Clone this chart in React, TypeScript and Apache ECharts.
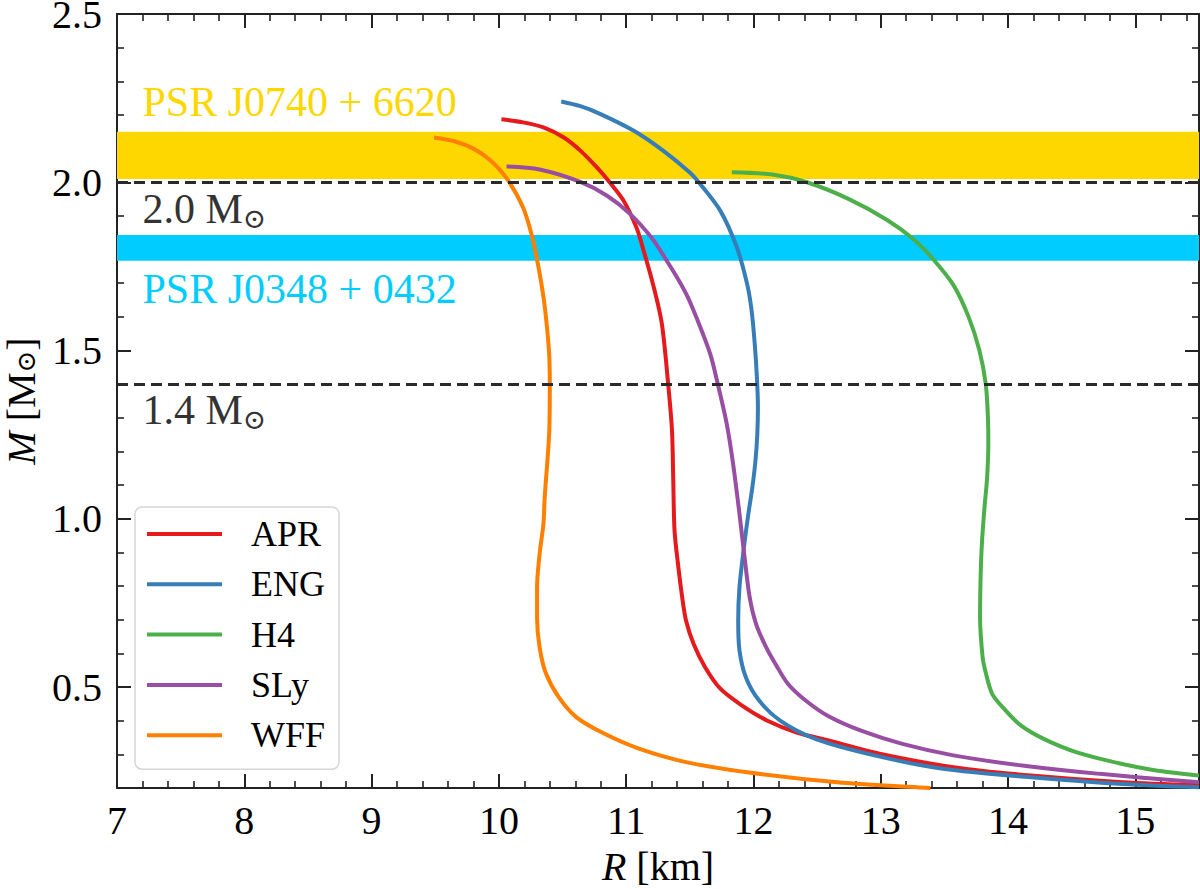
import React, { useEffect, useRef } from "react";
import * as echarts from "echarts";

// ---------- data ----------
const seriesNames = ["APR", "ENG", "H4", "SLy", "WFF"];
const seriesColors = ["#E41A1C", "#377EB8", "#4DAF4A", "#984EA3", "#FF7F00"];

const aprR = [10.02, 10.19, 10.35, 10.51, 10.64, 10.77, 10.87, 10.98, 11.08, 11.13, 11.21, 11.28, 11.33, 11.36, 11.37, 11.38, 11.41, 11.44, 11.47, 11.53, 11.62, 11.74, 11.91, 12.11, 12.34, 12.59, 12.99, 13.57, 14.18, 14.9, 15.5];
const aprM = [2.187, 2.178, 2.163, 2.133, 2.094, 2.044, 2.0, 1.945, 1.866, 1.806, 1.698, 1.58, 1.4, 1.262, 1.113, 0.965, 0.856, 0.767, 0.698, 0.628, 0.559, 0.495, 0.445, 0.4, 0.365, 0.341, 0.302, 0.262, 0.237, 0.217, 0.208];

const engR = [10.49, 10.64, 10.79, 11.06, 11.29, 11.5, 11.57, 11.74, 11.87, 11.95, 11.985, 12.01, 12.027, 12.035, 12.03, 12.015, 11.99, 11.96, 11.925, 11.89, 11.88, 11.89, 11.94, 12.04, 12.21, 12.485, 12.95, 13.49, 14.18, 14.9, 15.5];
const engM = [2.24, 2.226, 2.204, 2.153, 2.094, 2.029, 2.0, 1.915, 1.806, 1.698, 1.62, 1.52, 1.42, 1.33, 1.25, 1.17, 1.09, 1.015, 0.915, 0.797, 0.698, 0.609, 0.529, 0.462, 0.4, 0.346, 0.297, 0.257, 0.232, 0.212, 0.202];

const h4R = [11.83, 12.15, 12.42, 12.75, 13.05, 13.26, 13.41, 13.57, 13.69, 13.775, 13.825, 13.842, 13.845, 13.835, 13.815, 13.795, 13.785, 13.78, 13.8, 13.82, 13.875, 13.97, 14.1, 14.28, 14.54, 14.89, 15.15, 15.5];
const h4M = [2.03, 2.023, 2.0, 1.95, 1.888, 1.83, 1.772, 1.695, 1.6, 1.5, 1.4, 1.3, 1.22, 1.12, 1.034, 0.93, 0.836, 0.707, 0.589, 0.55, 0.48, 0.435, 0.386, 0.346, 0.306, 0.272, 0.253, 0.237];

const slyR = [10.06, 10.32, 10.64, 10.85, 11.03, 11.2, 11.3, 11.4, 11.48, 11.55, 11.66, 11.72, 11.79, 11.84, 11.89, 11.93, 11.97, 12.02, 12.1, 12.18, 12.27, 12.41, 12.59, 12.84, 13.17, 13.57, 14.11, 14.72, 15.5];
const slyM = [2.047, 2.038, 2.001, 1.96, 1.906, 1.835, 1.778, 1.717, 1.662, 1.6, 1.49, 1.4, 1.282, 1.163, 1.015, 0.886, 0.767, 0.688, 0.618, 0.564, 0.51, 0.46, 0.413, 0.371, 0.331, 0.297, 0.267, 0.242, 0.217];

const wffR = [9.49, 9.65, 9.8, 9.93, 10.06, 10.19, 10.26, 10.31, 10.35, 10.375, 10.395, 10.4, 10.396, 10.36, 10.35, 10.32, 10.3, 10.3, 10.32, 10.37, 10.47, 10.61, 10.83, 11.1, 11.47, 11.98, 12.66, 13.39];
const wffM = [2.133, 2.122, 2.1, 2.066, 2.012, 1.925, 1.84, 1.75, 1.66, 1.58, 1.49, 1.4, 1.262, 1.064, 0.985, 0.896, 0.797, 0.707, 0.618, 0.54, 0.47, 0.41, 0.361, 0.317, 0.277, 0.245, 0.217, 0.2];

const seriesR = [aprR, engR, h4R, slyR, wffR];
const seriesM = [aprM, engM, h4M, slyM, wffM];

// observational bands and reference lines
const bandLow = [2.01, 1.767];
const bandHigh = [2.15, 1.843];
const bandColors = ["#FFD700", "#00CCFF"];
const refLines = [2.0, 1.4];

// annotations
const annoR = [7.2, 7.2, 7.2, 7.2];
const annoM = [2.239, 1.922, 1.682, 1.324];
const annoMain = ["PSR J0740 + 6620", "2.0 M", "PSR J0348 + 0432", "1.4 M"];
const annoSun = [false, true, false, true];
const annoColors = ["#FFD700", "#333333", "#00CCFF", "#333333"];

// axes
const xMin = 7;
const xMax = 15.5;
const yMin = 0.2;
const yMax = 2.5;
const xMajorTicks = [7, 8, 9, 10, 11, 12, 13, 14, 15];
const xMinorTicks = [7.2, 7.4, 7.6, 7.8, 8.2, 8.4, 8.6, 8.8, 9.2, 9.4, 9.6, 9.8, 10.2, 10.4, 10.6, 10.8, 11.2, 11.4, 11.6, 11.8, 12.2, 12.4, 12.6, 12.8, 13.2, 13.4, 13.6, 13.8, 14.2, 14.4, 14.6, 14.8, 15.2, 15.4];
const yMajorTicks = [0.5, 1.0, 1.5, 2.0, 2.5];
const yMinorTicks = [0.3, 0.4, 0.6, 0.7, 0.8, 0.9, 1.1, 1.2, 1.3, 1.4, 1.6, 1.7, 1.8, 1.9, 2.1, 2.2, 2.3, 2.4];

const SERIF = "'Liberation Serif', 'Times New Roman', serif";
const SUNFONT = "'DejaVu Serif', 'DejaVu Sans', serif";
const AXIS_COLOR = "#222";

function makeXAxis(pos: string, ticks: number[], len: number, showLine: boolean, labels: boolean) {
  return {
    type: "value",
    position: pos,
    min: xMin,
    max: xMax,
    splitLine: { show: false },
    axisLine: { show: showLine, onZero: false, lineStyle: { color: AXIS_COLOR, width: 2 } },
    axisTick: {
      show: true,
      inside: true,
      length: len,
      customValues: ticks,
      lineStyle: { color: AXIS_COLOR, width: len > 10 ? 2 : 1.6 },
    },
    axisLabel: labels
      ? {
          show: true,
          customValues: ticks,
          margin: 12,
          fontSize: 40,
          fontFamily: SERIF,
          color: "#000",
          formatter: (v: number) => String(v),
        }
      : { show: false },
    axisPointer: { show: false },
  };
}

function makeYAxis(pos: string, ticks: number[], len: number, showLine: boolean, labels: boolean) {
  return {
    type: "value",
    position: pos,
    min: yMin,
    max: yMax,
    splitLine: { show: false },
    axisLine: { show: showLine, onZero: false, lineStyle: { color: AXIS_COLOR, width: 2 } },
    axisTick: {
      show: true,
      inside: true,
      length: len,
      customValues: ticks,
      lineStyle: { color: AXIS_COLOR, width: len > 10 ? 2 : 1.6 },
    },
    axisLabel: labels
      ? {
          show: true,
          customValues: ticks,
          margin: 15,
          fontSize: 40,
          lineHeight: 28,
          padding: [8, 0, 0, 0],
          fontFamily: SERIF,
          color: "#000",
          formatter: (v: number) => v.toFixed(1),
        }
      : { show: false },
  };
}

export default function App() {
  const ref = useRef<HTMLDivElement>(null);

  useEffect(() => {
    if (!ref.current) return;
    const chart = echarts.init(ref.current, null, { renderer: "svg" });

    const xBottom: any = makeXAxis("bottom", xMajorTicks, 14, true, true);
    xBottom.name = "{i|R} [km]";
    xBottom.nameLocation = "middle";
    xBottom.nameGap = 58;
    xBottom.nameTextStyle = {
      fontSize: 40,
      fontFamily: SERIF,
      color: "#000",
      rich: { i: { fontSize: 40, fontFamily: SERIF, fontStyle: "italic", color: "#000" } },
    };

    const yLeft: any = makeYAxis("left", yMajorTicks, 14, true, true);
    yLeft.name = "{i|M} [M{s|⊙}]";
    yLeft.nameLocation = "middle";
    yLeft.nameGap = 77;
    yLeft.nameTextStyle = {
      fontSize: 40,
      fontFamily: SERIF,
      color: "#000",
      lineHeight: 36,
      rich: {
        i: { fontSize: 40, fontFamily: SERIF, fontStyle: "italic", color: "#000", lineHeight: 36 },
        s: { fontSize: 26, fontFamily: SUNFONT, color: "#000", lineHeight: 22, verticalAlign: "bottom" },
      },
    };

    const curveSeries = seriesNames.map((name, i) => ({
      name,
      type: "line",
      xAxisIndex: 0,
      yAxisIndex: 0,
      showSymbol: false,
      symbol: "none",
      smooth: 0.3,
      z: 3,
      lineStyle: { color: seriesColors[i], width: 4 },
      itemStyle: { color: seriesColors[i] },
      data: seriesR[i].map((r, k) => [r, seriesM[i][k]]),
    }));

    const bandSeries = {
      name: "bands",
      type: "line",
      xAxisIndex: 0,
      yAxisIndex: 0,
      data: [],
      z: 1,
      silent: true,
      markArea: {
        silent: true,
        itemStyle: { opacity: 1 },
        data: bandLow.map((lo, i) => [
          { yAxis: lo, itemStyle: { color: bandColors[i], opacity: 1 } },
          { yAxis: bandHigh[i] },
        ]),
      },
      markLine: {
        silent: true,
        symbol: ["none", "none"],
        label: { show: false },
        lineStyle: { color: "#2a2a2a", width: 3, type: [11, 6] },
        data: refLines.map((v) => ({ yAxis: v })),
      },
    };

    const option: any = {
      animation: false,
      backgroundColor: "#fff",
      grid: {
        left: 117,
        right: 1,
        top: 14,
        bottom: 101,
        containLabel: false,
        outerBoundsMode: "none",
      },
      xAxis: [
        xBottom,
        makeXAxis("top", xMajorTicks, 14, true, false),
        makeXAxis("bottom", xMinorTicks, 7, false, false),
        makeXAxis("top", xMinorTicks, 7, false, false),
      ],
      yAxis: [
        yLeft,
        makeYAxis("right", yMajorTicks, 14, true, false),
        makeYAxis("left", yMinorTicks, 7, false, false),
        makeYAxis("right", yMinorTicks, 7, false, false),
      ],
      legend: {
        data: seriesNames,
        orient: "vertical",
        left: 135,
        top: 507,
        padding: [7, 14, 14, 12],
        itemGap: 10.3,
        itemWidth: 75,
        itemHeight: 4,
        icon: "rect",
        backgroundColor: "rgba(255,255,255,0.8)",
        borderColor: "#d6d6d6",
        borderWidth: 1.5,
        borderRadius: 7,
        textStyle: {
          fontSize: 36,
          fontFamily: SERIF,
          color: "#000",
          lineHeight: 40,
          padding: [0, 0, 0, 24],
        },
      },
      series: [bandSeries, ...curveSeries],
    };

    chart.setOption(option);

    const graphics = annoMain.map((t, i) => {
      const p = chart.convertToPixel({ xAxisIndex: 0, yAxisIndex: 0 }, [annoR[i], annoM[i]]) as number[];
      return {
        type: "text",
        x: p[0],
        y: p[1],
        z: 10,
        silent: true,
        style: {
          text: annoSun[i] ? t + "{s|⊙}" : t,
          fill: annoColors[i],
          fontSize: 42,
          fontFamily: SERIF,
          lineHeight: 48,
          align: "left",
          verticalAlign: "middle",
          rich: {
            s: {
              fontSize: 28,
              fontFamily: SUNFONT,
              fill: annoColors[i],
              color: annoColors[i],
              lineHeight: 24,
              verticalAlign: "bottom",
            },
          },
        },
      };
    });
    chart.setOption({ graphic: graphics });

    return () => chart.dispose();
  }, []);

  return (
    <div
      ref={ref}
      style={{ position: "absolute", left: 0, top: 0, width: 1200, height: 889, background: "#fff" }}
    />
  );
}
